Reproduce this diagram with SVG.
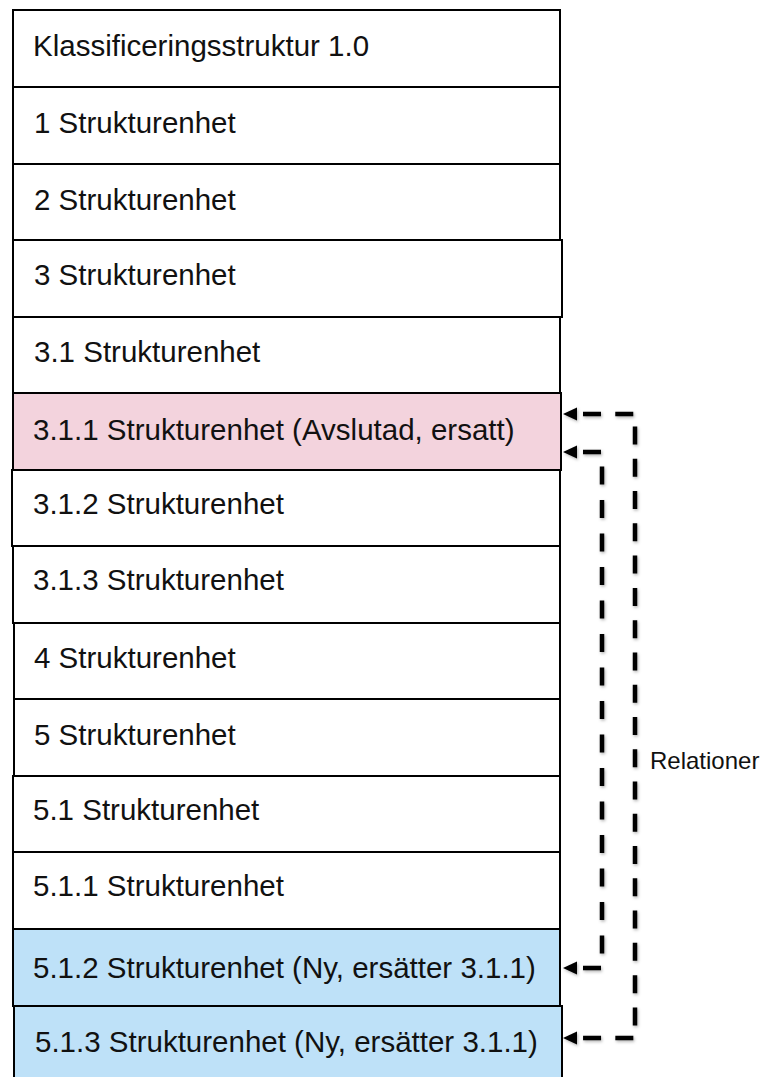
<svg xmlns="http://www.w3.org/2000/svg" width="766" height="1077" viewBox="0 0 766 1077">
<style>
.box{fill:#ffffff;stroke:#000000;stroke-width:2}
.pink{fill:#f3d3dd}
.blue{fill:#bee1f8}
.t{font-family:"Liberation Sans",Arial,sans-serif;font-size:29.5px;fill:#111111}
.rel{font-family:"Liberation Sans",Arial,sans-serif;font-size:24px;fill:#111111}
.con{fill:none;stroke:#000000;stroke-width:4.5}
.head{fill:#000000}
</style>
<defs>
<filter id="sh" x="-20%" y="-5%" width="140%" height="110%">
<feDropShadow dx="1" dy="1.5" stdDeviation="1.5" flood-color="#000000" flood-opacity="0.3"/>
</filter>
</defs>
<g id="n0"><rect class="box" x="13" y="10" width="547" height="77"/><text class="t" x="33" y="56">Klassificeringsstruktur 1.0</text></g>
<g id="n1"><rect class="box" x="13" y="87" width="547" height="77"/><text class="t" x="34" y="133">1 Strukturenhet</text></g>
<g id="n2"><rect class="box" x="13" y="164" width="547" height="76"/><text class="t" x="34" y="210">2 Strukturenhet</text></g>
<g id="n3"><rect class="box" x="13" y="240" width="549" height="77"/><text class="t" x="34" y="285">3 Strukturenhet</text></g>
<g id="n4"><rect class="box" x="13" y="317" width="547" height="76"/><text class="t" x="34" y="362">3.1 Strukturenhet</text></g>
<g id="n5"><rect class="box pink" x="13" y="393" width="548" height="77"/><text class="t" x="33" y="440">3.1.1 Strukturenhet (Avslutad, ersatt)</text></g>
<g id="n6"><rect class="box" x="12" y="470" width="548" height="76"/><text class="t" x="33" y="514">3.1.2 Strukturenhet</text></g>
<g id="n7"><rect class="box" x="13" y="546" width="547" height="77"/><text class="t" x="33" y="590">3.1.3 Strukturenhet</text></g>
<g id="n8"><rect class="box" x="14" y="623" width="546" height="76"/><text class="t" x="34" y="668">4 Strukturenhet</text></g>
<g id="n9"><rect class="box" x="14" y="699" width="546" height="77"/><text class="t" x="34" y="745">5 Strukturenhet</text></g>
<g id="n10"><rect class="box" x="13" y="776" width="547" height="76"/><text class="t" x="33" y="820">5.1 Strukturenhet</text></g>
<g id="n11"><rect class="box" x="13" y="852" width="547" height="77"/><text class="t" x="33" y="896">5.1.1 Strukturenhet</text></g>
<g id="n12"><rect class="box blue" x="13" y="929" width="547" height="77"/><text class="t" x="33" y="978">5.1.2 Strukturenhet (Ny, ersätter 3.1.1)</text></g>
<g id="n13"><rect class="box blue" x="14" y="1006" width="548" height="80"/><text class="t" x="35" y="1052">5.1.3 Strukturenhet (Ny, ersätter 3.1.1)</text></g>
<g id="connectors" filter="url(#sh)">
<path class="con" d="M 583 414 H 635 V 1038 H 583" stroke-dasharray="18 14.27"/>
<path class="con" d="M 583 452 H 602 V 968 H 583" stroke-dasharray="18 15.5"/>
<polygon class="head" points="563,414 577,407.5 577,420.5"/>
<polygon class="head" points="563,452 577,445.5 577,458.5"/>
<polygon class="head" points="563,968 577,961.5 577,974.5"/>
<polygon class="head" points="563,1038 577,1031.5 577,1044.5"/>
</g>
<g id="label"><text class="rel" x="650" y="769">Relationer</text></g>
</svg>
